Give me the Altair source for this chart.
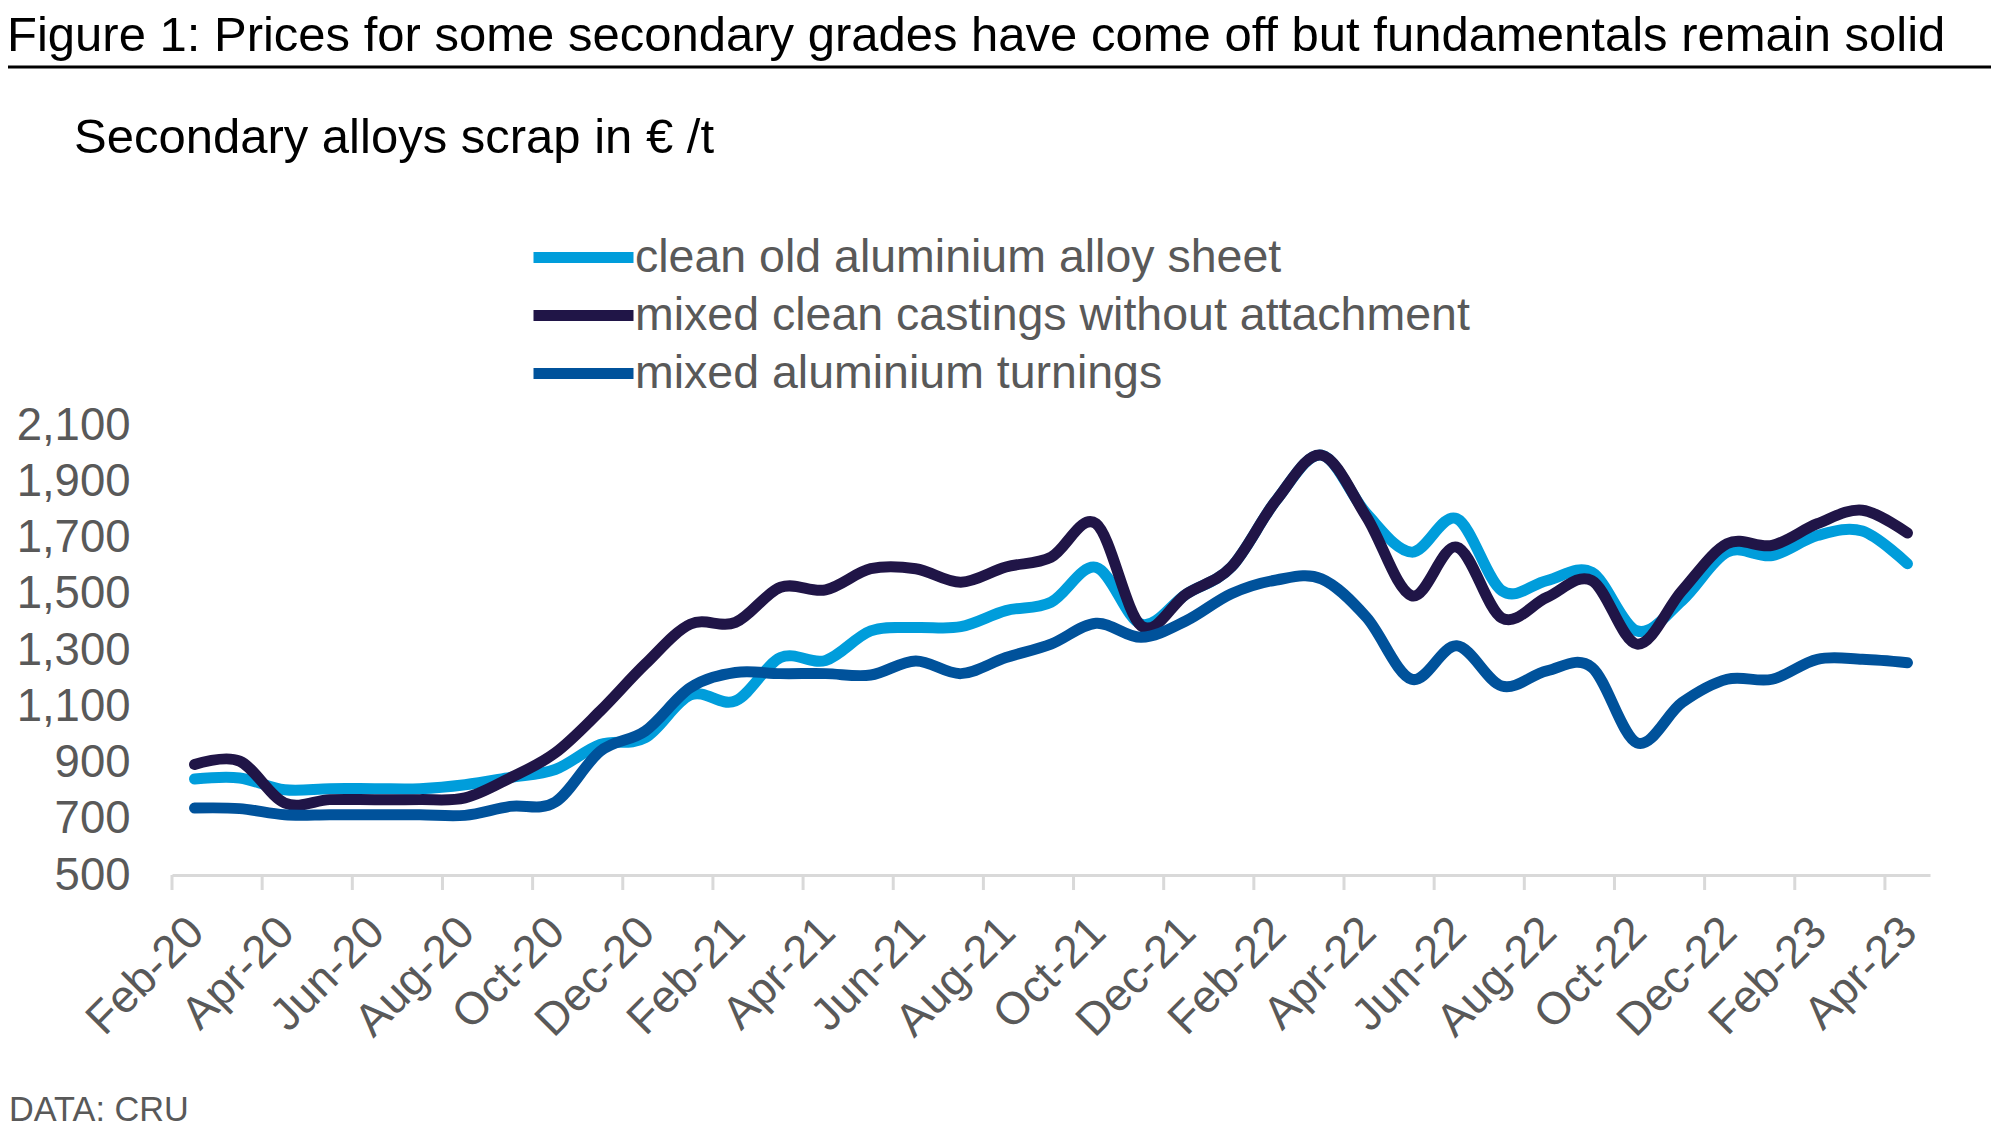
import altair as alt
import pandas as pd

months = ["Feb-20","Mar-20","Apr-20","May-20","Jun-20","Jul-20","Aug-20","Sep-20","Oct-20","Nov-20","Dec-20",
          "Jan-21","Feb-21","Mar-21","Apr-21","May-21","Jun-21","Jul-21","Aug-21","Sep-21","Oct-21","Nov-21","Dec-21",
          "Jan-22","Feb-22","Mar-22","Apr-22","May-22","Jun-22","Jul-22","Aug-22","Sep-22","Oct-22","Nov-22","Dec-22",
          "Jan-23","Feb-23","Mar-23","Apr-23"]

sheet = [841, 845, 803, 807, 807, 807, 821, 847, 875, 964, 988, 1140, 1119, 1273, 1263, 1368, 1380, 1383, 1440, 1470,
         1594, 1392, 1499, 1595, 1833, 1993, 1785, 1648, 1767, 1511, 1547, 1576, 1368, 1476, 1648, 1636, 1707, 1723, 1607]
castings = [893, 905, 756, 768, 768, 768, 774, 845, 934, 1083, 1250, 1392, 1398, 1523, 1514, 1589, 1589, 1541, 1595, 1630,
            1749, 1386, 1499, 1595, 1833, 1993, 1773, 1493, 1666, 1414, 1487, 1547, 1321, 1511, 1678, 1672, 1749, 1797, 1716]
turnings = [738, 736, 714, 714, 714, 714, 712, 744, 759, 940, 1012, 1166, 1220, 1216, 1216, 1211, 1261, 1216, 1273, 1321,
            1395, 1345, 1404, 1500, 1549, 1553, 1416, 1196, 1315, 1172, 1226, 1238, 970, 1113, 1196, 1196, 1267, 1267, 1255]

series_names = ["clean old aluminium alloy sheet", "mixed clean castings without attachment", "mixed aluminium turnings"]
series_colors = ["#009DDB", "#201547", "#00529B"]

title_text = "Figure 1: Prices for some secondary grades have come off but fundamentals remain solid"
subtitle_text = "Secondary alloys scrap in € /t"
source_text = "DATA: CRU"
y_ticks = [500, 700, 900, 1100, 1300, 1500, 1700, 1900, 2100]

FONT = "Liberation Sans"
GREY = "#595959"
W, H = 1758, 450

rows = []
for name, vals in zip(series_names, [sheet, castings, turnings]):
    for i, v in enumerate(vals):
        rows.append({"i": i, "month": months[i], "value": v, "series": name, "order": series_names.index(name)})
df = pd.DataFrame(rows)

label_idx = list(range(0, len(months), 2))
label_expr = "[" + ",".join("'" + m + "'" for m in months) + "][datum.value]"

xscale = alt.Scale(domain=[-0.5, len(months) - 0.5], nice=False, zero=False)
yscale = alt.Scale(domain=[500, 2100], nice=False, zero=False)

lines = alt.Chart(df).mark_line(strokeWidth=11, interpolate="cardinal", strokeCap="round", strokeJoin="round").encode(
    x=alt.X("i:Q", scale=xscale, axis=alt.Axis(
        values=label_idx, labelExpr=label_expr, title=None, ticks=False, tickSize=0, grid=False,
        domainColor="#D9D9D9", domainWidth=3, labelAngle=315, labelAlign="right", labelBaseline="top",
        labelPadding=34, labelOffset=-14, labelFont=FONT, labelFontSize=45.5, labelColor=GREY, labelOverlap=False,
        labelFlush=False)),
    y=alt.Y("value:Q", scale=yscale, axis=alt.Axis(
        values=y_ticks, format=",.0f", title=None, ticks=False, domain=False, grid=False,
        labelPadding=42, labelFont=FONT, labelFontSize=45.5, labelColor=GREY)),
    color=alt.Color("series:N", scale=alt.Scale(domain=series_names, range=series_colors), legend=alt.Legend(
        orient="none", legendX=381, legendY=-198, title=None, symbolType="M -2 0 L 2 0", symbolSize=2500,
        symbolStrokeWidth=11, labelFont=FONT, labelFontSize=46.5, labelColor=GREY, labelLimit=2000,
        rowPadding=4, labelOffset=21, padding=0)),
    detail="series:N",
    order="order:Q",
)

tick_df = pd.DataFrame({"t": [k - 0.5 for k in range(0, len(months), 2)]})
ticks = alt.Chart(tick_df).mark_rule(color="#D9D9D9", strokeWidth=3).encode(
    x=alt.X("t:Q", scale=xscale), y=alt.value(H), y2=alt.value(H + 15))

def txt(s, x, y, size, color):
    return alt.Chart(pd.DataFrame({"s": [s]})).mark_text(
        align="left", baseline="alphabetic", font=FONT, fontSize=size, color=color).encode(
        text="s:N", x=alt.value(x), y=alt.value(y))

title = txt(title_text, -165, -374, 49, "#000000")
subtitle = txt(subtitle_text, -98, -272, 49, "#000000")
source = txt(source_text, -163, 696, 34.3, GREY)
rule = alt.Chart(pd.DataFrame({"a": [0]})).mark_rule(color="#000000", strokeWidth=3).encode(
    x=alt.value(-172), x2=alt.value(1830), y=alt.value(-358))

chart = alt.layer(ticks, lines, title, subtitle, source, rule).properties(
    width=W, height=H,
    background="white",
    autosize=alt.AutoSizeParams(type="none"),
    padding={"left": 164, "top": 417, "right": 61, "bottom": 256},
).configure_view(strokeWidth=0, stroke="transparent")

chart.save("out.html", embed_options={"renderer": "svg", "actions": False})
